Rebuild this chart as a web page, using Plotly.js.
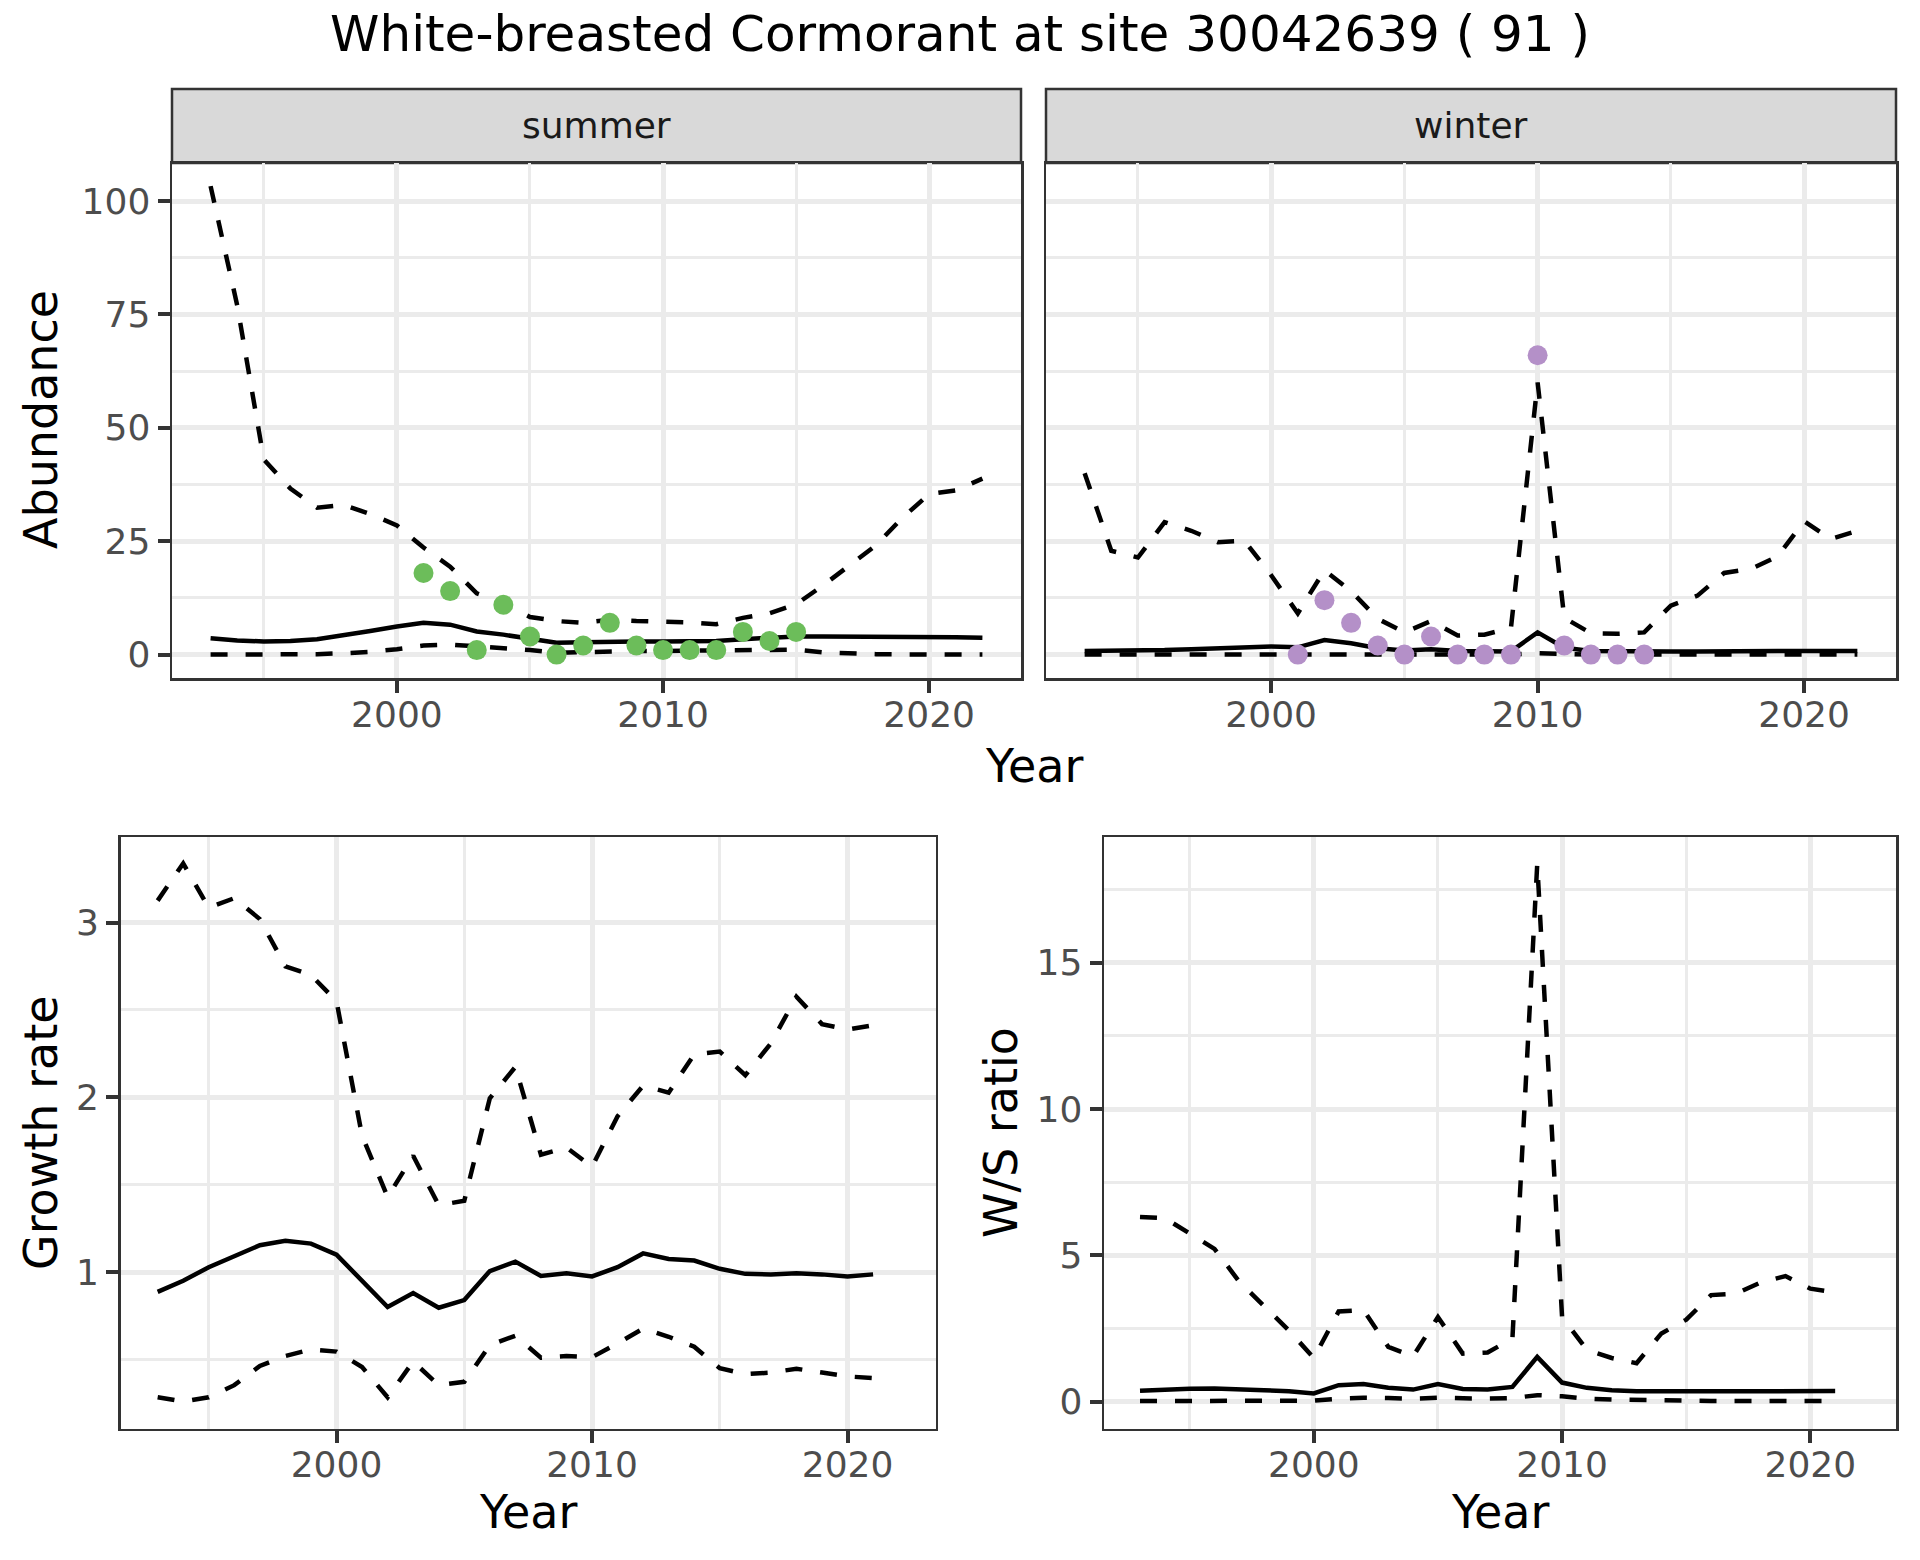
<!DOCTYPE html>
<html>
<head>
<meta charset="utf-8">
<script src="https://cdn.plot.ly/plotly-3.0.1.min.js"></script>
<style>
  html, body { margin: 0; padding: 0; background: #ffffff; }
  #chart { width: 1920px; height: 1560px; }
</style>
</head>
<body>
<div id="chart"></div>
<script>
// ---------------- DATA ----------------
const yearsAbund = [1993,1994,1995,1996,1997,1998,1999,2000,2001,2002,2003,2004,2005,2006,2007,2008,2009,2010,2011,2012,2013,2014,2015,2016,2017,2018,2019,2020,2021,2022];

const summerMean  = [3.6,3.1,2.9,3.0,3.4,4.2,5.2,6.2,7.0,6.6,5.1,4.4,3.4,2.6,2.7,2.9,2.9,2.9,2.9,3.0,3.4,3.8,4.0,4.0,4.0,3.9,3.9,3.9,3.8,3.7];
const summerUpper = [103.3,77,43,36.6,32.4,33,31,28.5,23.6,19.4,13.5,11.4,8.3,7.4,7.0,7.7,7.4,7.3,7.1,6.7,8.1,9.1,11.1,15.2,19.6,24.1,30.2,35.4,36.2,38.8];
const summerLower = [0,0,0,0,0.1,0.3,0.6,1.2,2.0,2.2,1.8,1.5,1.0,0.4,0.6,0.7,0.8,0.8,0.9,1.0,1.1,1.1,1.1,0.5,0.2,0.1,0.05,0,0,0];

const winterMean  = [0.8,0.8,0.9,1.0,1.2,1.4,1.6,1.8,1.6,3.2,2.5,1.4,0.9,1.2,0.8,0.7,0.7,4.9,1.5,0.8,0.7,0.7,0.7,0.7,0.8,0.8,0.8,0.8,0.8,0.8];
const winterUpper = [40,22.9,21.4,29.2,27.3,24.8,25.1,17.5,9.1,18.6,14,7.9,4.9,7.4,4.2,4.4,5.9,60,8.1,4.7,4.6,4.9,10.8,13,18,18.9,21.6,29.4,25.5,27.3];
const winterLower = [0,0,0,0,0,0,0,0,0,0.2,0.1,0.05,0,0,0,0,0,0.3,0.1,0,0,0,0,0,0,0,0,0,0,0];

const summerObsYears = [2001,2002,2003,2004,2005,2006,2007,2008,2009,2010,2011,2012,2013,2014,2015];
const summerObs      = [18,14,1,11,4,0,2,7,2,1,1,1,5,3,5];
const winterObsYears = [2001,2002,2003,2004,2005,2006,2007,2008,2009,2010,2011,2012,2013,2014];
const winterObs      = [0,12,7,2,0,4,0,0,0,66,2,0,0,0];

const yearsRate = [1993,1994,1995,1996,1997,1998,1999,2000,2001,2002,2003,2004,2005,2006,2007,2008,2009,2010,2011,2012,2013,2014,2015,2016,2017,2018,2019,2020,2021];

const growthMean  = [0.887,0.95,1.028,1.09,1.154,1.179,1.163,1.10,0.95,0.80,0.88,0.796,0.84,1.006,1.06,0.978,0.994,0.975,1.028,1.107,1.075,1.066,1.019,0.99,0.987,0.994,0.987,0.975,0.987];
const growthUpper = [3.126,3.339,3.085,3.14,3.02,2.75,2.70,2.55,1.78,1.43,1.666,1.383,1.408,1.995,2.174,1.672,1.713,1.603,1.892,2.067,2.027,2.246,2.262,2.127,2.309,2.576,2.419,2.388,2.413];
const growthLower = [0.284,0.259,0.284,0.353,0.463,0.52,0.557,0.545,0.457,0.284,0.488,0.353,0.372,0.582,0.636,0.51,0.52,0.513,0.592,0.677,0.63,0.573,0.45,0.416,0.425,0.447,0.425,0.403,0.394];

const wsMean  = [0.37,0.41,0.44,0.45,0.43,0.39,0.35,0.28,0.56,0.6,0.47,0.41,0.6,0.43,0.41,0.5,1.53,0.65,0.47,0.39,0.35,0.35,0.35,0.36,0.36,0.36,0.36,0.36,0.36];
const wsUpper = [6.31,6.27,5.75,5.22,4.1,3.26,2.43,1.49,3.08,3.13,1.87,1.55,2.89,1.64,1.68,2.15,18.38,2.89,1.77,1.49,1.31,2.33,2.8,3.64,3.69,4.07,4.29,3.86,3.73];
const wsLower = [0.02,0.02,0.02,0.02,0.02,0.02,0.03,0.03,0.1,0.13,0.12,0.1,0.13,0.1,0.1,0.12,0.22,0.18,0.1,0.07,0.05,0.03,0.02,0.02,0.02,0.02,0.02,0.02,0.02];

const panelNames = ["summer", "winter"];
const titleText = "White-breasted Cormorant at site 30042639 ( 91 )";

// ---------------- STYLE ----------------
const W = 1920, H = 1560;
const FONT = "DejaVu Sans";
const LW = 4.5;
const DASH = "17px,18px";
const green = "#6CBD5A";
const purple = "#B490C8";

function px(x) { return x / W; }
function py(y) { return 1 - y / H; }

function lineTrace(x, y, xa, ya, dashed) {
  return {x: x, y: y, xaxis: xa, yaxis: ya, type: "scatter", mode: "lines",
          line: {color: "#000000", width: LW, dash: dashed ? DASH : "solid"},
          hoverinfo: "skip", showlegend: false};
}
function pointTrace(x, y, xa, ya, col) {
  return {x: x, y: y, xaxis: xa, yaxis: ya, type: "scatter", mode: "markers",
          marker: {color: col, size: 20, line: {width: 0}},
          hoverinfo: "skip", showlegend: false};
}

const traces = [
  lineTrace(yearsAbund, summerUpper, "x", "y", true),
  lineTrace(yearsAbund, summerLower, "x", "y", true),
  lineTrace(yearsAbund, summerMean, "x", "y", false),
  pointTrace(summerObsYears, summerObs, "x", "y", green),
  lineTrace(yearsAbund, winterUpper, "x2", "y2", true),
  lineTrace(yearsAbund, winterLower, "x2", "y2", true),
  lineTrace(yearsAbund, winterMean, "x2", "y2", false),
  pointTrace(winterObsYears, winterObs, "x2", "y2", purple),
  lineTrace(yearsRate, growthUpper, "x3", "y3", true),
  lineTrace(yearsRate, growthLower, "x3", "y3", true),
  lineTrace(yearsRate, growthMean, "x3", "y3", false),
  lineTrace(yearsRate, wsUpper, "x4", "y4", true),
  lineTrace(yearsRate, wsLower, "x4", "y4", true),
  lineTrace(yearsRate, wsMean, "x4", "y4", false)
];

const tickFont = {family: FONT, size: 36, color: "#4D4D4D"};
function axisBase(domain, anchor, range, dtick, minorDtick, showLabels, isX) {
  return {
    domain: domain, anchor: anchor, range: range,
    tickmode: "linear", tick0: 0, dtick: dtick,
    showgrid: true, gridcolor: "#EBEBEB", gridwidth: 5,
    minor: {tickmode: "linear", tick0: 0, dtick: minorDtick, showgrid: true, gridcolor: "#EBEBEB", gridwidth: 3, ticks: ""},
    ticks: showLabels ? "outside" : "", ticklen: 12, tickwidth: 4, tickcolor: "#333333",
    showticklabels: showLabels, tickfont: tickFont,
    ticklabelstandoff: isX ? -9 : 0,
    showline: true, mirror: true, linecolor: "#333333", linewidth: 2.5,
    zeroline: false, fixedrange: true
  };
}
const xr = [1991.55, 2023.45];
const topDom = [py(678), py(163)];
const botDom = [py(1428.5), py(837)];

const layout = {
  width: W, height: H,
  margin: {l: 0, r: 0, t: 0, b: 0},
  paper_bgcolor: "#ffffff", plot_bgcolor: "#ffffff",
  font: {family: FONT},
  showlegend: false,
  xaxis:  axisBase([px(172), px(1021)], "y", xr, 10, 5, true, true),
  yaxis:  axisBase(topDom, "x", [-5.16, 108.4], 25, 12.5, true, false),
  xaxis2: axisBase([px(1046), px(1896)], "y2", xr, 10, 5, true, true),
  yaxis2: axisBase(topDom, "x2", [-5.16, 108.4], 25, 12.5, false, false),
  xaxis3: axisBase([px(120.6), px(935.7)], "y3", xr, 10, 5, true, true),
  yaxis3: axisBase(botDom, "x3", [0.105, 3.49], 1, 0.5, true, false),
  xaxis4: axisBase([px(1104), px(1896)], "y4", xr, 10, 5, true, true),
  yaxis4: axisBase(botDom, "x4", [-0.92, 19.3], 5, 2.5, true, false),
  shapes: [
    {type: "rect", xref: "paper", yref: "paper", x0: px(172), x1: px(1021), y0: py(163), y1: py(89),
     fillcolor: "#D9D9D9", line: {color: "#333333", width: 2.5}, layer: "below"},
    {type: "rect", xref: "paper", yref: "paper", x0: px(1046), x1: px(1896), y0: py(163), y1: py(89),
     fillcolor: "#D9D9D9", line: {color: "#333333", width: 2.5}, layer: "below"}
  ],
  annotations: [
    {text: titleText, xref: "paper", yref: "paper", x: 0.5, y: py(34), xanchor: "center", yanchor: "middle",
     showarrow: false, font: {family: FONT, size: 50, color: "#000000"}},
    {text: panelNames[0], xref: "paper", yref: "paper", x: px((172 + 1021) / 2), y: py(125), xanchor: "center", yanchor: "middle",
     showarrow: false, font: {family: FONT, size: 36, color: "#1A1A1A"}},
    {text: panelNames[1], xref: "paper", yref: "paper", x: px((1046 + 1896) / 2), y: py(125), xanchor: "center", yanchor: "middle",
     showarrow: false, font: {family: FONT, size: 36, color: "#1A1A1A"}},
    {text: "Year", xref: "paper", yref: "paper", x: px(1034), y: py(766), xanchor: "center", yanchor: "middle",
     showarrow: false, font: {family: FONT, size: 46, color: "#000000"}},
    {text: "Abundance", xref: "paper", yref: "paper", x: px(41), y: py(420), xanchor: "center", yanchor: "middle",
     textangle: -90, showarrow: false, font: {family: FONT, size: 46, color: "#000000"}},
    {text: "Growth rate", xref: "paper", yref: "paper", x: px(41), y: py(1133), xanchor: "center", yanchor: "middle",
     textangle: -90, showarrow: false, font: {family: FONT, size: 46, color: "#000000"}},
    {text: "W/S ratio", xref: "paper", yref: "paper", x: px(1001), y: py(1133), xanchor: "center", yanchor: "middle",
     textangle: -90, showarrow: false, font: {family: FONT, size: 46, color: "#000000"}},
    {text: "Year", xref: "paper", yref: "paper", x: px(528), y: py(1512), xanchor: "center", yanchor: "middle",
     showarrow: false, font: {family: FONT, size: 46, color: "#000000"}},
    {text: "Year", xref: "paper", yref: "paper", x: px(1500), y: py(1512), xanchor: "center", yanchor: "middle",
     showarrow: false, font: {family: FONT, size: 46, color: "#000000"}}
  ]
};

Plotly.newPlot("chart", traces, layout, {staticPlot: true, displayModeBar: false});
</script>
</body>
</html>
